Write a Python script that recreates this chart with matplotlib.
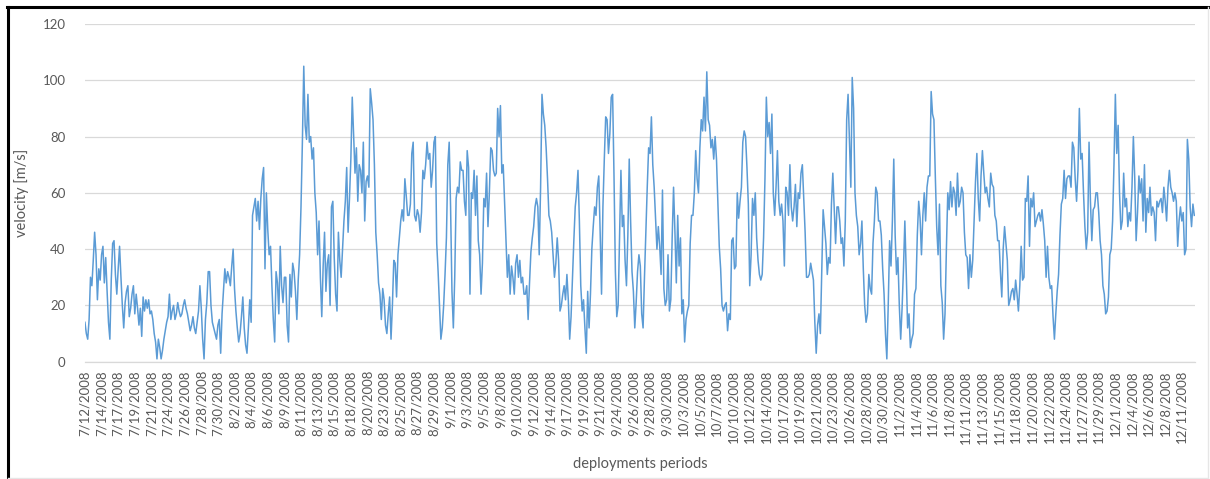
import numpy as np
import matplotlib.pyplot as plt
from matplotlib.lines import Line2D

plt.rcParams['font.family'] = ['Lato', 'DejaVu Sans']

# 测量日期（每隔12个采样点标注一次）
dates = ['7/12/2008', '7/14/2008', '7/17/2008', '7/19/2008', '7/21/2008', '7/24/2008',
         '7/26/2008', '7/28/2008', '7/30/2008', '8/2/2008', '8/4/2008', '8/6/2008',
         '8/9/2008', '8/11/2008', '8/13/2008', '8/15/2008', '8/18/2008', '8/20/2008',
         '8/23/2008', '8/25/2008', '8/27/2008', '8/29/2008', '9/1/2008', '9/3/2008',
         '9/5/2008', '9/8/2008', '9/10/2008', '9/12/2008', '9/14/2008', '9/17/2008',
         '9/19/2008', '9/21/2008', '9/24/2008', '9/26/2008', '9/28/2008', '9/30/2008',
         '10/3/2008', '10/5/2008', '10/7/2008', '10/10/2008', '10/12/2008', '10/14/2008',
         '10/17/2008', '10/19/2008', '10/21/2008', '10/23/2008', '10/26/2008', '10/28/2008',
         '10/30/2008', '11/2/2008', '11/4/2008', '11/6/2008', '11/8/2008', '11/11/2008',
         '11/13/2008', '11/15/2008', '11/18/2008', '11/20/2008', '11/22/2008', '11/24/2008',
         '11/27/2008', '11/29/2008', '12/1/2008', '12/4/2008', '12/6/2008', '12/8/2008',
         '12/11/2008']
step = 12

# 速度数据 m/s，每行对应一个标注间隔
velocity = [
    14, 10, 8, 15, 30, 27, 36, 46, 38, 22, 33, 29,
    38, 41, 28, 37, 25, 14, 8, 29, 42, 43, 31, 24,
    33, 41, 30, 20, 12, 21, 25, 27, 16, 19, 24, 27,
    17, 24, 19, 13, 19, 9, 23, 18, 22, 19, 22, 17,
    18, 15, 10, 7, 1, 8, 5, 1, 4, 8, 11, 14,
    16, 24, 15, 18, 20, 15, 17, 21, 18, 16, 17, 20,
    22, 19, 17, 14, 11, 13, 16, 12, 10, 14, 18, 27,
    19, 8, 1, 15, 21, 32, 32, 20, 14, 12, 10, 8,
    13, 15, 3, 17, 25, 33, 28, 32, 30, 27, 34, 40,
    26, 18, 12, 7, 10, 16, 23, 12, 6, 3, 12, 22,
    14, 52, 55, 58, 50, 57, 47, 58, 65, 69, 33, 60,
    47, 38, 41, 27, 15, 7, 32, 28, 17, 41, 27, 21,
    30, 30, 13, 7, 31, 23, 35, 32, 25, 15, 29, 38,
    55, 78, 105, 84, 79, 95, 78, 80, 72, 76, 60, 53,
    38, 50, 30, 16, 34, 46, 25, 35, 38, 20, 55, 57,
    37, 24, 18, 46, 36, 30, 40, 50, 57, 69, 46, 58,
    72, 94, 80, 67, 76, 57, 70, 68, 60, 78, 50, 64,
    66, 62, 97, 92, 86, 70, 46, 38, 28, 24, 15, 26,
    22, 13, 10, 17, 23, 8, 20, 36, 35, 23, 38, 44,
    50, 54, 50, 65, 59, 52, 52, 56, 74, 78, 52, 50,
    54, 52, 46, 53, 68, 65, 70, 78, 72, 74, 62, 68,
    78, 80, 42, 32, 20, 8, 12, 20, 31, 44, 70, 78,
    55, 25, 12, 30, 58, 62, 60, 71, 68, 68, 57, 52,
    75, 69, 24, 60, 58, 68, 52, 66, 43, 38, 24, 35,
    58, 55, 67, 48, 60, 76, 75, 68, 66, 67, 90, 80,
    91, 67, 70, 57, 44, 30, 38, 24, 34, 30, 24, 35,
    38, 30, 36, 28, 30, 24, 24, 27, 15, 28, 39, 44,
    48, 55, 58, 55, 38, 62, 95, 88, 84, 76, 65, 52,
    50, 46, 38, 30, 35, 44, 36, 18, 20, 24, 27, 22,
    31, 22, 8, 16, 30, 43, 55, 60, 68, 50, 27, 18,
    22, 12, 3, 25, 12, 24, 40, 48, 55, 52, 62, 66,
    46, 24, 55, 72, 87, 86, 74, 81, 94, 95, 66, 32,
    16, 20, 45, 68, 48, 52, 36, 27, 45, 72, 50, 32,
    25, 12, 21, 32, 38, 34, 17, 12, 30, 46, 62, 76,
    74, 87, 70, 62, 51, 40, 48, 41, 31, 61, 26, 20,
    22, 38, 18, 22, 44, 62, 46, 28, 52, 34, 44, 17,
    22, 7, 15, 18, 20, 42, 52, 52, 60, 75, 65, 60,
    76, 86, 82, 94, 82, 103, 86, 84, 76, 79, 72, 80,
    72, 56, 41, 33, 20, 18, 20, 21, 11, 17, 15, 43,
    44, 33, 34, 60, 51, 57, 62, 78, 82, 80, 69, 56,
    27, 38, 58, 52, 60, 44, 36, 31, 29, 31, 44, 65,
    94, 80, 85, 74, 88, 60, 52, 62, 75, 57, 52, 56,
    50, 34, 62, 60, 52, 70, 55, 50, 55, 63, 48, 60,
    58, 67, 70, 58, 46, 30, 30, 31, 35, 32, 29, 14,
    3, 13, 17, 10, 32, 54, 48, 42, 31, 37, 35, 56,
    67, 54, 42, 55, 55, 50, 42, 44, 34, 50, 86, 95,
    78, 62, 101, 90, 60, 52, 48, 38, 42, 50, 33, 20,
    14, 17, 31, 26, 24, 42, 50, 62, 60, 50, 50, 45,
    33, 24, 10, 1, 20, 43, 34, 50, 72, 45, 31, 37,
    20, 8, 19, 33, 50, 32, 12, 17, 5, 8, 10, 24,
    26, 45, 57, 51, 38, 52, 60, 50, 62, 66, 66, 96,
    88, 86, 66, 48, 38, 56, 27, 21, 8, 17, 40, 60,
    54, 64, 55, 62, 60, 52, 67, 55, 57, 62, 60, 46,
    38, 37, 26, 38, 30, 36, 50, 64, 74, 58, 50, 66,
    75, 67, 60, 62, 58, 55, 67, 63, 62, 52, 50, 43,
    43, 32, 23, 40, 48, 42, 36, 20, 22, 25, 26, 22,
    29, 24, 18, 27, 41, 29, 30, 58, 57, 66, 41, 58,
    55, 60, 48, 50, 52, 53, 50, 54, 49, 43, 30, 41,
    30, 26, 27, 16, 8, 17, 25, 31, 45, 56, 58, 68,
    58, 65, 66, 66, 62, 78, 76, 65, 57, 68, 90, 72,
    74, 60, 48, 40, 46, 78, 57, 43, 54, 55, 60, 60,
    53, 43, 38, 27, 24, 17, 18, 23, 38, 40, 50, 70,
    95, 74, 84, 60, 47, 50, 67, 55, 58, 48, 53, 50,
    62, 80, 65, 43, 53, 66, 60, 65, 50, 70, 46, 58,
    53, 62, 52, 55, 53, 43, 57, 55, 57, 58, 53, 62,
    57, 50, 62, 68, 62, 60, 57, 60, 57, 41, 50, 55,
    50, 53, 38, 40, 79, 72, 55, 48, 56, 52,
]

fig = plt.figure(figsize=(12.10, 4.79), dpi=100)
ax = fig.add_axes([0.0702, 0.2449, 0.9174, 0.705])

x = np.arange(len(velocity))
ax.plot(x, velocity, color='#5B9BD5', lw=1.1)

ax.set_ylim(0, 120)
ax.set_yticks(range(0, 121, 20))
ax.set_xlim(0, 801.5)
ax.set_xticks(np.arange(len(dates)) * step)
ax.set_xticklabels(dates, rotation=90, va='top', ha='center')

ax.grid(axis='y', color='#D9D9D9', lw=0.9)
ax.set_axisbelow(True)
for s in ['top', 'right', 'left']:
    ax.spines[s].set_visible(False)
ax.spines['bottom'].set_color('#D9D9D9')
ax.spines['bottom'].set_linewidth(0.9)
ax.tick_params(axis='both', length=0, colors='#595959', labelsize=9.5)
ax.tick_params(axis='y', pad=14)
ax.tick_params(axis='x', pad=6)

ax.set_ylabel('velocity [m/s]', fontsize=10.5, color='#595959', labelpad=10)
ax.set_xlabel('deployments periods', fontsize=10.5, color='#595959', labelpad=10)

# 外框
fig.add_artist(Line2D([0.0066, 0.0066], [0, 0.986], color='black', lw=2.2, transform=fig.transFigure))
fig.add_artist(Line2D([0.0058, 1], [0.986, 0.986], color='black', lw=2.2, transform=fig.transFigure))
fig.add_artist(Line2D([0.998, 0.998], [0.003, 0.986], color='#E6E6E6', lw=1, transform=fig.transFigure))
fig.add_artist(Line2D([0.0066, 0.998], [0.003, 0.003], color='#E6E6E6', lw=1, transform=fig.transFigure))

plt.savefig('out.png', dpi=100)
